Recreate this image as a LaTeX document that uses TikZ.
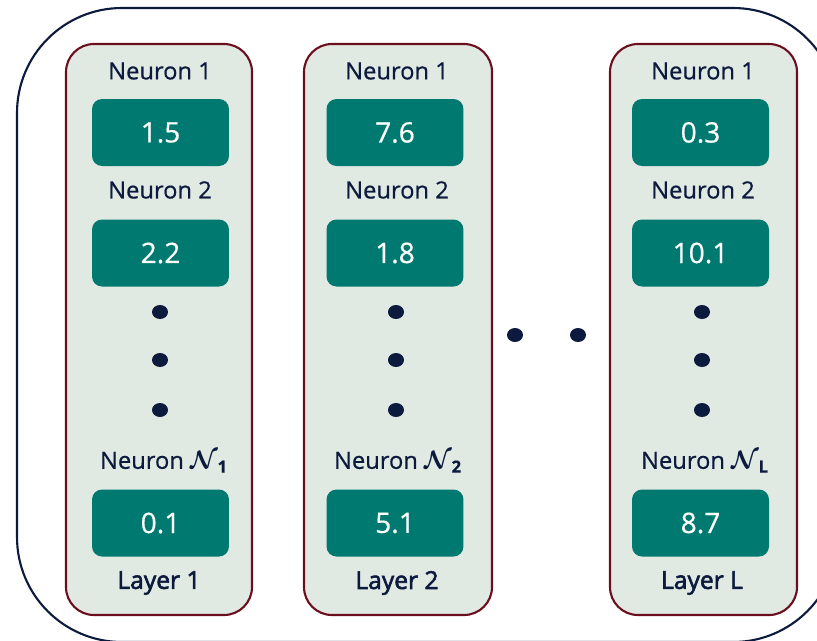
\documentclass[tikz,border=0pt]{standalone}
\usepackage{fontspec}
\setmainfont{Open Sans}[RawFeature={embolden=0.6}]
\newfontfamily\laysb{Open Sans}[RawFeature={embolden=2.4}]
\usepackage{amsmath}
\usepackage{amssymb}
\usepackage{tikz}
\usetikzlibrary{calc}

\definecolor{navy}{HTML}{0C1A3E}
\definecolor{maroon}{HTML}{6B0F1E}
\definecolor{paleg}{HTML}{E1E9E3}
\definecolor{tealbox}{HTML}{007A70}

\tikzset{
  layerbox/.style={draw=maroon, fill=paleg, line width=1.2pt, rounded corners=0.56cm},
  valbox/.style={fill=tealbox, text=white, rounded corners=0.2cm, minimum width=2.74cm,
                 minimum height=1.34cm, inner sep=0pt, font=\fontsize{16}{18}\selectfont},
  lbl/.style={text=navy, inner sep=0pt, font=\fontsize{13.5}{16}\selectfont},
  laylbl/.style={text=navy, inner sep=0pt, font=\laysb\fontsize{14}{16}\selectfont},
  dotmark/.style={ellipse, fill=navy, inner sep=0pt, minimum width=0.32cm, minimum height=0.28cm}
}
\usetikzlibrary{shapes.geometric}

\begin{document}
\begin{tikzpicture}[x=0.02cm,y=-0.02cm]
\useasboundingbox (0,0) rectangle (817,640);
\begin{scope}
\clip (0,0) rectangle (817,640);
\draw[navy, line width=1.2pt, rounded corners=2.1cm] (17,8) rectangle (838,642);
\end{scope}

% layer 1
\draw[layerbox] (66,44) rectangle (252,615);
\node[lbl] (l1n1) at (160,71) {Neuron 1};
\node[valbox] (l1v1) at (160.5,132.5) {1.5};
\node[lbl] (l1n2) at (160,190) {Neuron 2};
\node[valbox] (l1v2) at (160.5,253) {2.2};
\node[dotmark] (l1d1) at (160,312) {};
\node[dotmark] (l1d2) at (160,360) {};
\node[dotmark] (l1d3) at (160,410) {};
\node[lbl] (l1nn) at (164,462) {Neuron $\boldsymbol{\mathcal{N}}_{\mathbf{1}}$};
\node[valbox] (l1v3) at (160.5,523) {0.1};
\node[laylbl] (l1) at (159,583) {Layer 1};

% layer 2
\draw[layerbox] (304,44) rectangle (492,615);
\node[lbl] (l2n1) at (397,71) {Neuron 1};
\node[valbox] (l2v1) at (395,132.5) {7.6};
\node[lbl] (l2n2) at (397,190) {Neuron 2};
\node[valbox] (l2v2) at (395,253) {1.8};
\node[dotmark] (l2d1) at (396,312) {};
\node[dotmark] (l2d2) at (396,360) {};
\node[dotmark] (l2d3) at (396,410) {};
\node[lbl] (l2nn) at (398,462) {Neuron $\boldsymbol{\mathcal{N}}_{\mathbf{2}}$};
\node[valbox] (l2v3) at (395,523) {5.1};
\node[laylbl] (l2) at (397,583) {Layer 2};

% gap
\node[dotmark] (gap1) at (515,335) {};
\node[dotmark] (gap2) at (578,335) {};

% layer L
\draw[layerbox] (610,44) rectangle (797,615);
\node[lbl] (lLn1) at (703,71) {Neuron 1};
\node[valbox] (lLv1) at (700.5,132.5) {0.3};
\node[lbl] (lLn2) at (703,190) {Neuron 2};
\node[valbox] (lLv2) at (700.5,253) {10.1};
\node[dotmark] (lLd1) at (702,312) {};
\node[dotmark] (lLd2) at (702,360) {};
\node[dotmark] (lLd3) at (702,410) {};
\node[lbl] (lLnn) at (705,462) {Neuron $\boldsymbol{\mathcal{N}}_{\mathbf{L}}$};
\node[valbox] (lLv3) at (700.5,523) {8.7};
\node[laylbl] (lL) at (702,583) {Layer L};
\end{tikzpicture}
\end{document}
